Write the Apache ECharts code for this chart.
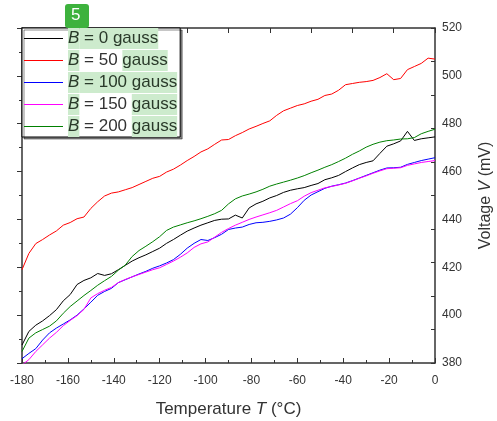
<!DOCTYPE html>
<html><head><meta charset="utf-8">
<script src="https://cdn.jsdelivr.net/npm/echarts@6/dist/echarts.min.js"></script>
<style>html,body{margin:0;padding:0;background:#fff}#c{width:497px;height:421px}</style>
</head><body><div id="c"></div>
<script>
const temps = [-180,-177,-174,-171,-168,-165,-162,-159,-156,-153,-150,-147,-144,-141,-138,-135,-132,-129,-126,-123,-120,-117,-114,-111,-108,-105,-102,-99,-96,-93,-90,-87,-84,-81,-78,-75,-72,-69,-66,-63,-60,-57,-54,-51,-48,-45,-42,-39,-36,-33,-30,-27,-24,-21,-18,-15,-12,-9,-6,-3,0];
const b0 = [387.5,393.2,395.8,397.6,399.8,402.3,406.0,408.6,412.8,414.5,415.6,417.4,416.6,417.3,419.0,420.8,422.6,424.0,425.2,426.6,428.0,430.0,431.6,433.4,435.1,436.4,437.6,438.6,439.6,440.1,440.2,441.8,440.6,444.8,446.5,447.6,449.0,450.0,451.3,452.2,452.8,453.3,454.2,455.0,456.6,457.4,458.4,460.0,461.5,462.9,463.8,464.5,467.6,470.6,471.6,472.8,476.8,473.0,473.7,474.1,474.5];
const b50 = [419.0,425.8,429.9,431.6,433.5,435.2,437.6,438.7,440.3,441.0,444.6,447.4,449.8,451.0,451.5,452.4,453.3,454.6,455.9,457.2,458.0,459.8,461.0,462.7,464.6,466.3,468.2,469.5,471.4,473.2,473.4,475.0,476.3,477.8,478.9,480.1,481.2,483.5,485.4,486.5,487.6,488.3,489.4,490.2,491.8,492.4,494.0,496.3,496.8,497.3,497.6,498.1,499.3,500.9,498.4,498.9,502.6,503.9,505.2,507.4,507.0];
const b100 = [381.8,384.0,386.0,389.6,392.6,394.6,396.3,398.0,400.0,402.6,405.4,408.3,409.9,411.2,413.6,414.8,416.0,417.2,418.3,419.6,420.6,421.8,423.2,425.4,428.0,430.0,431.6,431.2,432.4,433.8,435.8,436.4,436.8,437.9,438.6,438.8,439.2,439.8,440.6,442.2,444.9,448.0,450.2,451.6,453.0,453.9,454.5,455.2,456.2,457.3,458.4,459.5,460.6,461.5,461.6,461.8,463.0,463.8,464.6,465.2,465.8];
const b150 = [379.2,381.4,384.8,387.6,390.4,392.8,395.6,397.8,399.8,402.4,407.2,409.0,410.4,411.6,413.6,414.9,416.0,417.0,418.0,419.0,419.8,421.2,422.6,424.2,426.0,428.3,429.8,430.6,432.6,434.6,436.2,437.6,438.8,440.0,441.0,441.9,442.8,443.8,445.2,446.6,447.8,449.7,451.2,452.2,453.2,453.8,454.4,455.1,456.1,457.2,458.2,459.3,460.3,461.2,461.4,461.6,462.6,463.2,463.8,464.2,464.6];
const b200 = [384.8,390.4,392.6,394.0,395.4,397.6,400.8,403.6,405.9,408.2,410.3,412.5,414.4,416.2,418.8,420.9,424.5,427.0,428.8,430.7,432.8,435.4,436.8,437.7,438.6,439.4,440.3,441.3,442.4,443.8,446.5,448.6,449.8,450.6,451.5,452.6,453.9,454.8,455.6,456.4,457.3,458.3,459.5,460.6,461.8,462.9,464.2,465.6,467.2,468.6,470.2,471.4,472.3,472.9,473.2,473.6,473.7,474.2,475.8,476.8,477.7];
const seriesNames = ['B = 0 gauss','B = 50 gauss','B = 100 gauss','B = 150 gauss','B = 200 gauss'];
const seriesColors = ['#000000','#ff0000','#0000ff','#ff00ff','#008000'];
const xTicks = {min:-180, max:0, step:20};
const yTicks = {min:380, max:520, step:20};

const allData = [b0,b50,b100,b150,b200];
const legendFmt = {
  'B = 0 gauss': '{bi|B}{h| = 0 gauss}',
  'B = 50 gauss': '{bi|B}{w| = 50 }{h|gauss}',
  'B = 100 gauss': '{bi|B}{h| = 100 gauss}',
  'B = 150 gauss': '{bi|B}{w| = 150 }{h|gauss}',
  'B = 200 gauss': '{bi|B}{w| = 200 }{h|gauss}'
};
const hl = '#cdebcd';
const FF = '"Liberation Sans", Arial, sans-serif';
const FS = 17;
const chart = echarts.init(document.getElementById('c'));
const axLine = {show:true, lineStyle:{color:'#333', width:1.5}};
chart.setOption({
  animation:false,
  textStyle:{fontFamily:FF},
  grid:{left:22, right:62, top:28, bottom:58, containLabel:false, outerBoundsMode:'none'},
  legend:{
    orient:'vertical', left:22, top:28, padding:[0,3,0,2], itemGap:1,
    itemWidth:39, itemHeight:12,
    backgroundColor:'#fff', borderColor:'#000', borderWidth:1,
    shadowColor:'rgba(0,0,0,0.45)', shadowOffsetX:2, shadowOffsetY:2, shadowBlur:0,
    data: seriesNames.map(n=>({name:n, icon:'path://M0,0L40,0L40,1L0,1Z'})),
    formatter: n => legendFmt[n],
    textStyle:{fontSize:FS, fontFamily:FF, color:'#333', rich:{
      bi:{fontStyle:'italic', fontSize:FS, color:'#2a3a2a', backgroundColor:hl, lineHeight:21, height:21},
      h:{fontSize:FS, color:'#2a3a2a', backgroundColor:hl, lineHeight:21, height:21},
      w:{fontSize:FS, color:'#333', lineHeight:21, height:21}
    }}
  },
  xAxis:[
    {type:'value', position:'bottom', min:xTicks.min, max:xTicks.max, interval:xTicks.step,
     axisLine:axLine, axisTick:{inside:true, length:5, lineStyle:{color:'#333'}},
     minorTick:{show:true, splitNumber:2, length:3, lineStyle:{color:'#333'}},
     splitLine:{show:false},
     axisLabel:{fontSize:12, color:'#333', margin:12, fontFamily:FF},
     name:'{n|Temperature }{i|T}{n| (°C)}', nameLocation:'middle', nameGap:38,
     nameTextStyle:{rich:{n:{fontSize:FS, color:'#333', fontFamily:FF}, i:{fontSize:FS, color:'#333', fontStyle:'italic', fontFamily:FF}}}
    },
    {type:'value', position:'top', min:0, max:10, interval:1,
     axisLine:axLine, axisTick:{inside:true, length:5, lineStyle:{color:'#333'}},
     axisLabel:{show:false}, splitLine:{show:false}}
  ],
  yAxis:[
    {type:'value', position:'left', min:0, max:10, interval:1,
     axisLine:axLine, axisTick:{inside:false, length:4, lineStyle:{color:'#333'}},
     axisLabel:{show:false}, splitLine:{show:false}},
    {type:'value', position:'right', min:yTicks.min, max:yTicks.max, interval:yTicks.step,
     axisLine:axLine, axisTick:{inside:true, length:5, lineStyle:{color:'#333'}},
     minorTick:{show:true, splitNumber:2, length:3, lineStyle:{color:'#333'}},
     splitLine:{show:false},
     axisLabel:{fontSize:12, color:'#333', margin:7, fontFamily:FF},
     name:'{n|Voltage }{i|V}{n| (mV)}', nameLocation:'middle', nameGap:43,
     nameTextStyle:{rich:{n:{fontSize:16, color:'#333', fontFamily:FF}, i:{fontSize:16, color:'#333', fontStyle:'italic', fontFamily:FF}}}
    }
  ],
  graphic:[
    {type:'rect', left:65, top:4, shape:{width:24, height:24, r:3}, style:{fill:'#3db23d'}, z:100},
    {type:'text', left:71, top:7, style:{text:'5', fill:'#fff', fontSize:17, fontFamily:FF}, z:101}
  ],
  series: seriesNames.map((n,k)=>({
    name:n, type:'line', xAxisIndex:0, yAxisIndex:1, symbol:'none', showSymbol:false,
    lineStyle:{color:seriesColors[k], width:1}, itemStyle:{color:seriesColors[k]},
    data: temps.map((t,i)=>[t, allData[k][i]])
  }))
});
</script></body></html>
